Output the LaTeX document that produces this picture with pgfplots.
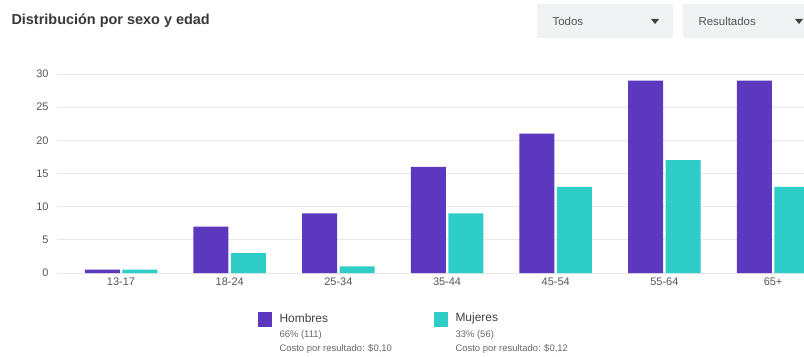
\documentclass[border=0pt]{standalone}
\usepackage{fontspec}
\setmainfont{Liberation Sans}
\usepackage{pgfplots}
\pgfplotsset{compat=1.18}
\definecolor{hom}{HTML}{5B38BD}
\definecolor{muj}{HTML}{2FCDC8}
\definecolor{gridc}{HTML}{E8E8E8}
\definecolor{tickc}{HTML}{555555}
\definecolor{boxc}{HTML}{F1F2F4}
\begin{document}
\begin{tikzpicture}[x=1bp,y=1bp]
\useasboundingbox (0,0) rectangle (804,356);
% title
\node[anchor=west,text=black!78,font=\fontsize{14.5}{16}\selectfont\bfseries] at (8,335) {Distribución por sexo y edad};
% dropdowns
\fill[boxc] (537,318) rectangle (673,352);
\node[anchor=west,text=tickc,font=\fontsize{11.5}{13}\selectfont] at (549,335) {Todos};
\fill[black!75] (651,337) -- (659,337) -- (655,332) -- cycle;
\fill[boxc] (683,318) rectangle (820,352);
\node[anchor=west,text=tickc,font=\fontsize{11.5}{13}\selectfont] at (695,335) {Resultados};
\fill[black!75] (795,337) -- (803,337) -- (799,332) -- cycle;
\begin{axis}[
  at={(57bp,83bp)}, anchor=south west,
  scale only axis, width=747bp, height=199bp,
  xmin=-0.589, xmax=6.285, ymin=0, ymax=30,
  axis line style={draw=none},
  ymajorgrids, grid style={gridc, line width=0.8pt},
  ytick={0,5,...,30},
  xtick={0,...,6},
  xticklabels={13-17,18-24,25-34,35-44,45-54,55-64,65+},
  major tick length=0pt,
  tick label style={text=tickc, font=\fontsize{11}{13}\selectfont},
  /pgf/number format/assume math mode=true,
  yticklabel style={xshift=-5bp},
  xticklabel style={yshift=-1bp},
  clip=true,
]
\addplot[ybar, bar width=35bp, bar shift=-18.75bp, fill=hom, draw=none]
  coordinates {(0,0.5) (1,7) (2,9) (3,16) (4,21) (5,29) (6,29)};
\addplot[ybar, bar width=35bp, bar shift=18.75bp, fill=muj, draw=none]
  coordinates {(0,0.5) (1,3) (2,1) (3,9) (4,13) (5,17) (6,13)};
\end{axis}
% legend
\fill[hom] (258,29) rectangle (272,44);
\node[anchor=west,text=black!75,font=\fontsize{12}{14}\selectfont] at (276,38) {Hombres};
\node[anchor=west,text=black!60,font=\fontsize{9.5}{11}\selectfont] at (276,21) {66\% (111)};
\node[anchor=west,text=black!60,font=\fontsize{9.5}{11}\selectfont] at (276,7) {Costo por resultado: \$0,10};
\fill[muj] (434,29) rectangle (448,44);
\node[anchor=west,text=black!75,font=\fontsize{12}{14}\selectfont] at (452,38) {Mujeres};
\node[anchor=west,text=black!60,font=\fontsize{9.5}{11}\selectfont] at (452,21) {33\% (56)};
\node[anchor=west,text=black!60,font=\fontsize{9.5}{11}\selectfont] at (452,7) {Costo por resultado: \$0,12};
\end{tikzpicture}
\end{document}
